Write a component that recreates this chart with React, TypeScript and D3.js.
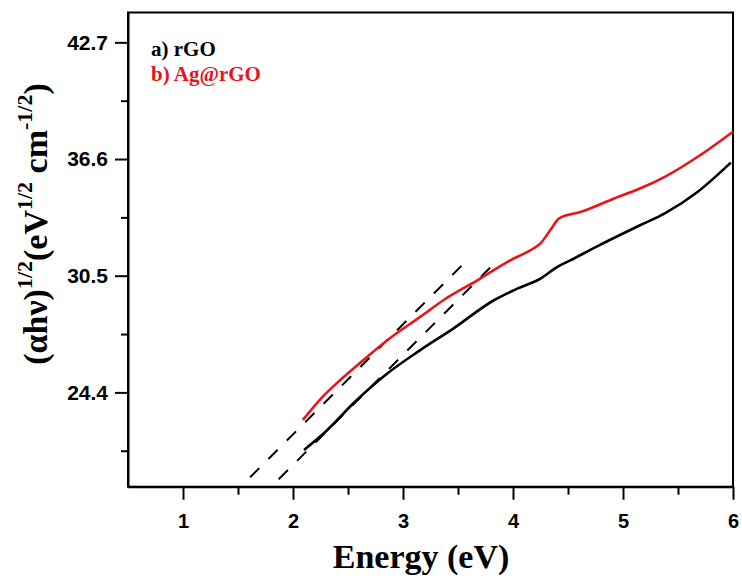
import React, { useEffect, useRef } from 'react';
import * as d3 from 'd3';

// a) rGO
const rgoEnergy = [2.10, 2.28, 2.58, 2.86, 3.16, 3.46, 3.83, 4.05, 4.25, 4.40, 4.52, 4.77, 5.16, 5.38, 5.68, 5.98];
const rgoValue = [21.39, 22.26, 24.0, 25.40, 26.62, 27.75, 29.23, 29.85, 30.35, 30.95, 31.30, 32.05, 33.15, 33.76, 34.89, 36.41];

// b) Ag@rGO
const agEnergy = [2.09, 2.25, 2.43, 2.64, 2.86, 3.16, 3.37, 3.68, 3.98, 4.16, 4.25, 4.34, 4.42, 4.62, 4.92, 5.16, 5.38, 5.68, 6.0];
const agValue = [22.96, 24.05, 25.05, 26.09, 27.14, 28.36, 29.23, 30.27, 31.32, 31.84, 32.19, 32.89, 33.50, 33.84, 34.54, 35.07, 35.67, 36.72, 38.03];

// dashed tangent lines (start, end)
const tangentEnergy = [[1.61, 3.60], [1.87, 3.80]];
const tangentValue = [[19.96, 31.41], [19.86, 30.97]];

const xTicks = [1, 2, 3, 4, 5, 6];
const xMinor = [1.5, 2.5, 3.5, 4.5, 5.5];
const yTicks = [24.4, 30.5, 36.6, 42.7];
const yMinor = [21.35, 27.45, 33.55, 39.65];

const legendLabels = ['a) rGO', 'b) Ag@rGO'];
const colors = ['#000000', '#e8141c'];

const W = 742, H = 578;
const left = 128, right = 733, top = 12.5, bottom = 486.7;

export default function App() {
    const xAxisRef = useRef<SVGGElement>(null);
    const yAxisRef = useRef<SVGGElement>(null);

    const x = d3.scaleLinear().domain([0.5, 6]).range([left, right]);
    const y = d3.scaleLinear().domain([19.47, 44.26]).range([bottom, top]);

    useEffect(() => {
        const gx = d3.select(xAxisRef.current);
        gx.selectAll('*').remove();
        gx.append('g')
            .call(d3.axisBottom(x).tickValues(xMinor).tickSize(8).tickSizeOuter(0).tickFormat(() => ''))
            .call(g => g.select('.domain').remove());
        gx.append('g')
            .call(d3.axisBottom(x).tickValues(xTicks).tickSize(13).tickSizeOuter(0).tickPadding(14).tickFormat(d3.format('d')));
        gx.selectAll('line').attr('stroke-width', 2);
        gx.selectAll('.domain').attr('stroke-width', 2);
        gx.selectAll('text')
            .attr('font-family', '"Liberation Sans", Arial, sans-serif')
            .attr('font-weight', 'bold')
            .attr('font-size', 20)
            .attr('fill', '#000');

        const gy = d3.select(yAxisRef.current);
        gy.selectAll('*').remove();
        gy.append('g')
            .call(d3.axisLeft(y).tickValues(yMinor).tickSize(7).tickSizeOuter(0).tickFormat(() => ''))
            .call(g => g.select('.domain').remove());
        gy.append('g')
            .call(d3.axisLeft(y).tickValues(yTicks).tickSize(13).tickSizeOuter(0).tickPadding(7).tickFormat(d3.format('.1f')));
        gy.selectAll('line').attr('stroke-width', 2);
        gy.selectAll('.domain').attr('stroke-width', 2);
        gy.selectAll('text')
            .attr('font-family', '"Liberation Sans", Arial, sans-serif')
            .attr('font-weight', 'bold')
            .attr('font-size', 21)
            .attr('fill', '#000');
    }, []);

    const line = d3.line<[number, number]>()
        .x(d => x(d[0]))
        .y(d => y(d[1]))
        .curve(d3.curveMonotoneX);

    const series = [
        rgoEnergy.map((e, i) => [e, rgoValue[i]] as [number, number]),
        agEnergy.map((e, i) => [e, agValue[i]] as [number, number]),
    ];

    const serif = '"Liberation Serif", "Times New Roman", serif';

    return (
        <svg width={W} height={H} style={{ position: 'absolute', left: 0, top: 0, background: '#fff' }}>
            {/* frame */}
            <rect x={left} y={top} width={right - left} height={bottom - top} fill="none" stroke="#000" strokeWidth={2} />

            {/* tangent lines */}
            {tangentEnergy.map((e, i) => (
                <line key={'t' + i}
                    x1={x(e[0])} y1={y(tangentValue[i][0])}
                    x2={x(e[1])} y2={y(tangentValue[i][1])}
                    stroke="#000" strokeWidth={2} strokeDasharray="13,13" />
            ))}

            {/* curves */}
            {series.map((s, i) => (
                <path key={'s' + i} d={line(s) || ''} fill="none" stroke={colors[i]} strokeWidth={2.6} strokeLinejoin="round" />
            ))}

            <g ref={xAxisRef} transform={`translate(0,${bottom})`} />
            <g ref={yAxisRef} transform={`translate(${left},0)`} />

            {/* legend */}
            {legendLabels.map((t, i) => (
                <text key={'l' + i} x={151} y={56 + i * 25} fill={colors[i]}
                    fontFamily={serif} fontWeight="bold" fontSize={21}>{t}</text>
            ))}

            {/* axis titles */}
            <text x={421} y={568} textAnchor="middle" fontFamily={serif} fontWeight="bold" fontSize={34}>Energy (eV)</text>
            <text transform="translate(47,224) rotate(-90)" textAnchor="middle" fontFamily={serif} fontWeight="bold" fontSize={34}>
                <tspan>(αhν)</tspan>
                <tspan fontSize={22} dy={-15}>1/2</tspan>
                <tspan dy={15}>(eV</tspan>
                <tspan fontSize={22} dy={-15}>1/2</tspan>
                <tspan dy={15}> cm</tspan>
                <tspan fontSize={22} dy={-15}>-1/2</tspan>
                <tspan dy={15}>)</tspan>
            </text>
        </svg>
    );
}
